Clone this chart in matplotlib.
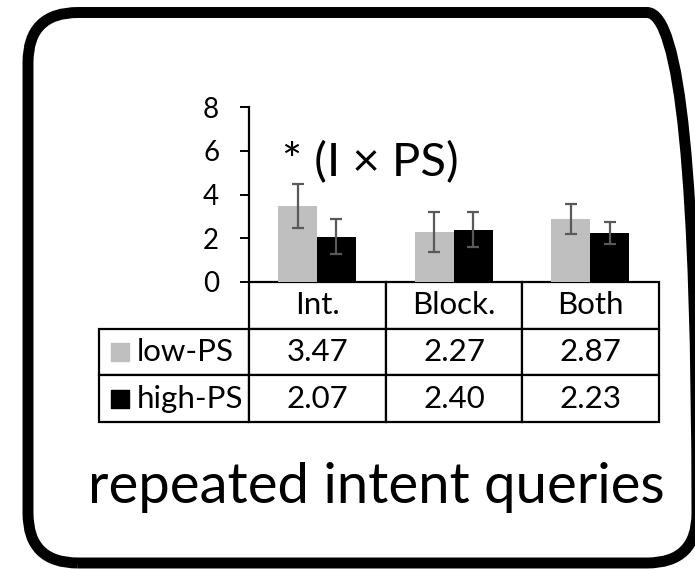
import matplotlib
matplotlib.use("Agg")
import matplotlib.pyplot as plt
import numpy as np
from matplotlib.patches import FancyBboxPatch
from matplotlib.table import Table
from matplotlib.transforms import IdentityTransform

# data
categories = ["Int.", "Block.", "Both"]
series = ["low-PS", "high-PS"]
low_ps = [3.47, 2.27, 2.87]
high_ps = [2.07, 2.40, 2.23]
low_err = [1.0, 0.92, 0.69]
high_err = [0.8, 0.78, 0.5]
yticks = [0, 2, 4, 6, 8]
note = "* (I \u00d7 PS)"
title = "repeated intent queries"

colors = ["#BFBFBF", "#000000"]
font = "Lato"
plt.rcParams["font.family"] = [font, "DejaVu Sans"]

W, H = 695, 569
fig = plt.figure(figsize=(W / 100, H / 100), dpi=100)

# axes placed in pixel terms: x 249..659, y(0)=282, y(8)=107
ax = fig.add_axes([249 / W, (H - 282) / H, 410 / W, 175 / H])

x = np.arange(len(categories))
w = 0.285
ekw = dict(ecolor="#595959", elinewidth=1.6, capsize=4.5, capthick=1.6)
ax.bar(x - 0.145, low_ps, w, color=colors[0], yerr=low_err, error_kw=ekw, zorder=2)
ax.bar(x + 0.14, high_ps, w, color=colors[1], yerr=high_err, error_kw=ekw, zorder=2)

ax.set_xlim(-0.5, len(categories) - 0.5)
ax.set_ylim(0, 8)
ax.set_yticks(yticks)
ax.set_xticks([])
for s in ["top", "right", "bottom"]:
    ax.spines[s].set_visible(False)
ax.spines["left"].set_linewidth(1.6)
ax.tick_params(axis="y", length=6.5, width=1.4, pad=15, labelsize=20)

ax.text(-0.26, 5.45, note, fontsize=34, ha="left", va="center")

# data table under the bars; bbox covers the data grid, row labels sit left of it
tab = Table(ax, bbox=[0, -0.8, 1, 0.8])
dw = 1 / 3
lw = 150 / 410
rh = 0.8 / 3
for j, c in enumerate(categories):
    tab.add_cell(0, j, dw, rh, text=c, loc="center")
for i, (name, vals) in enumerate(zip(series, [low_ps, high_ps])):
    cell = tab.add_cell(i + 1, -1, lw, rh, text=name, loc="left")
    cell.PAD = 0.25
    for j, v in enumerate(vals):
        tab.add_cell(i + 1, j, dw, rh, text=f"{v:.2f}", loc="center")
tab.auto_set_font_size(False)
tab.set_fontsize(22.5)
for cell in tab.get_celld().values():
    cell.set_linewidth(1.6)
    cell.set_edgecolor("black")
    cell.get_text().set_fontfamily([font, "DejaVu Sans"])
ax.add_table(tab)

# legend squares in the row labels
for i, col in enumerate(colors):
    ax.scatter([(120 - 249) / 410], [(282 - 352 - i * 47) / 175], marker="s", s=150,
               color=col, transform=ax.transAxes, clip_on=False, zorder=5)

fig.text(376 / W, (H - 503) / H, title, fontsize=40.5, ha="center", va="baseline")

# rounded frame, right side mostly falls outside the picture
frame = FancyBboxPatch((28, 6), 669, 550.5, boxstyle="round,pad=0,rounding_size=50",
                       transform=IdentityTransform(), fill=False, edgecolor="black",
                       linewidth=7.9, clip_on=False)
fig.add_artist(frame)

fig.savefig("out.png", dpi=100)
